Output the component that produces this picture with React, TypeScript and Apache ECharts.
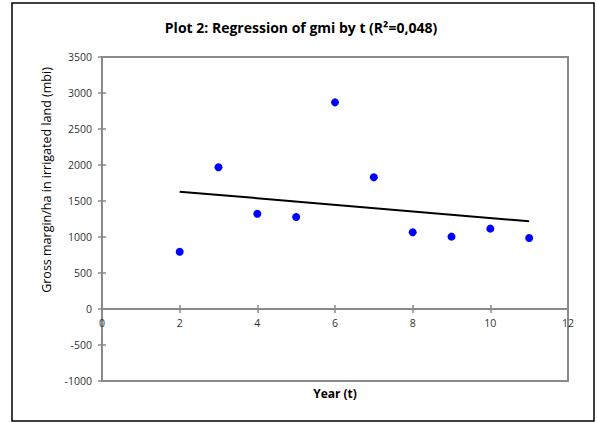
import React, { useEffect, useRef } from "react";
import * as echarts from "echarts";

const years = [2, 3, 4, 5, 6, 7, 8, 9, 10, 11];
const gmi = [796, 1968, 1324, 1278, 2870, 1829, 1065, 1005, 1116, 986];
const trendX = [2, 11];
const trendY = [1630, 1218];

const titleText = "Plot 2: Regression of gmi by t (R²=0,048)";
const yTitle = "Gross margin/ha in irrigated land (mbi)";
const xTitle = "Year (t)";

const FONT = "'Open Sans', Lato, sans-serif";
const AXIS = "#8a8a8a";
const LABEL = "#333333";

const X_MIN = 0;
const X_MAX = 12;
const X_STEP = 2;
const Y_MIN = -1000;
const Y_MAX = 3500;
const Y_STEP = 500;

export default function App() {
  const ref = useRef<HTMLDivElement>(null);
  useEffect(() => {
    if (!ref.current) return;
    const chart = echarts.init(ref.current, undefined, { renderer: "svg" });
    const xBase = {
      type: "value",
      min: X_MIN,
      max: X_MAX,
      interval: X_STEP,
      splitLine: { show: false },
    };
    const yBase = {
      type: "value",
      min: Y_MIN,
      max: Y_MAX,
      interval: Y_STEP,
      splitLine: { show: false },
    };
    const tickStyle = { color: AXIS, width: 1.5 };
    const gridPos = { left: 102, top: 57, right: 29, bottom: 42 };
    // upper grid spans from the top of the plot down to the y = 0 line
    const upperPos = { left: 102, top: 57, right: 29, bottom: 114 };
    chart.setOption({
      animation: false,
      backgroundColor: "#ffffff",
      textStyle: { fontFamily: FONT },
      grid: [
        {
          ...gridPos,
          show: true,
          borderColor: AXIS,
          borderWidth: 2,
          backgroundColor: "transparent",
        },
        { ...gridPos, show: false },
        { ...upperPos, show: false },
      ],
      xAxis: [
        {
          ...xBase,
          gridIndex: 0,
          axisLine: { show: true, onZero: true, lineStyle: { color: AXIS, width: 2 } },
          axisTick: { show: true, inside: false, length: 4, lineStyle: tickStyle },
          axisLabel: { show: false },
        },
        {
          ...xBase,
          gridIndex: 1,
          axisLine: { show: false, onZero: false },
          axisTick: { show: false },
          axisLabel: { show: false },
        },
        {
          ...xBase,
          gridIndex: 2,
          position: "bottom",
          axisLine: { show: false, onZero: false },
          axisTick: { show: true, inside: true, length: 4, lineStyle: tickStyle },
          axisLabel: { color: LABEL, fontSize: 10.5, fontFamily: FONT, margin: 8 },
        },
      ],
      yAxis: [
        {
          ...yBase,
          gridIndex: 0,
          axisLine: { show: true, onZero: false, lineStyle: { color: AXIS, width: 2 } },
          axisTick: { show: true, inside: false, length: 4, lineStyle: tickStyle },
          axisLabel: {
            color: LABEL,
            fontSize: 10.5,
            fontFamily: FONT,
            margin: 10,
            formatter: (v: number) => String(v),
          },
        },
        {
          ...yBase,
          gridIndex: 1,
          axisLine: { show: false, onZero: false },
          axisTick: { show: true, inside: true, length: 4, lineStyle: tickStyle },
          axisLabel: { show: false },
        },
        {
          type: "value",
          min: 0,
          max: Y_MAX,
          gridIndex: 2,
          show: false,
        },
      ],
      series: [
        {
          type: "line",
          xAxisIndex: 0,
          yAxisIndex: 0,
          data: trendX.map((x, i) => [x, trendY[i]]),
          showSymbol: false,
          symbol: "none",
          lineStyle: { color: "#000000", width: 2 },
          z: 2,
        },
        {
          type: "scatter",
          xAxisIndex: 0,
          yAxisIndex: 0,
          data: years.map((x, i) => [x, gmi[i]]),
          symbol: "circle",
          symbolSize: 8,
          itemStyle: { color: "#0000ff", opacity: 1 },
          z: 3,
        },
      ],
      graphic: [
        {
          type: "rect",
          shape: { x: 12, y: 3, width: 582, height: 418 },
          style: { fill: "none", stroke: "#000000", lineWidth: 1.5 },
          silent: true,
        },
        {
          type: "text",
          x: 301,
          y: 27,
          style: {
            text: titleText,
            fontFamily: FONT,
            fontSize: 14,
            fontWeight: "bold",
            fill: "#000000",
            align: "center",
            verticalAlign: "middle",
          },
        },
        {
          type: "text",
          x: 335,
          y: 393,
          style: {
            text: xTitle,
            fontFamily: FONT,
            fontSize: 12,
            fontWeight: "bold",
            fill: "#000000",
            align: "center",
            verticalAlign: "middle",
          },
        },
        {
          type: "text",
          x: 46,
          y: 180,
          rotation: Math.PI / 2,
          style: {
            text: yTitle,
            fontFamily: FONT,
            fontSize: 12.5,
            fill: "#000000",
            align: "center",
            verticalAlign: "middle",
          },
        },
      ],
    });
    return () => chart.dispose();
  }, []);
  return (
    <div
      ref={ref}
      style={{ position: "absolute", left: 0, top: 0, width: 597, height: 423 }}
    />
  );
}
